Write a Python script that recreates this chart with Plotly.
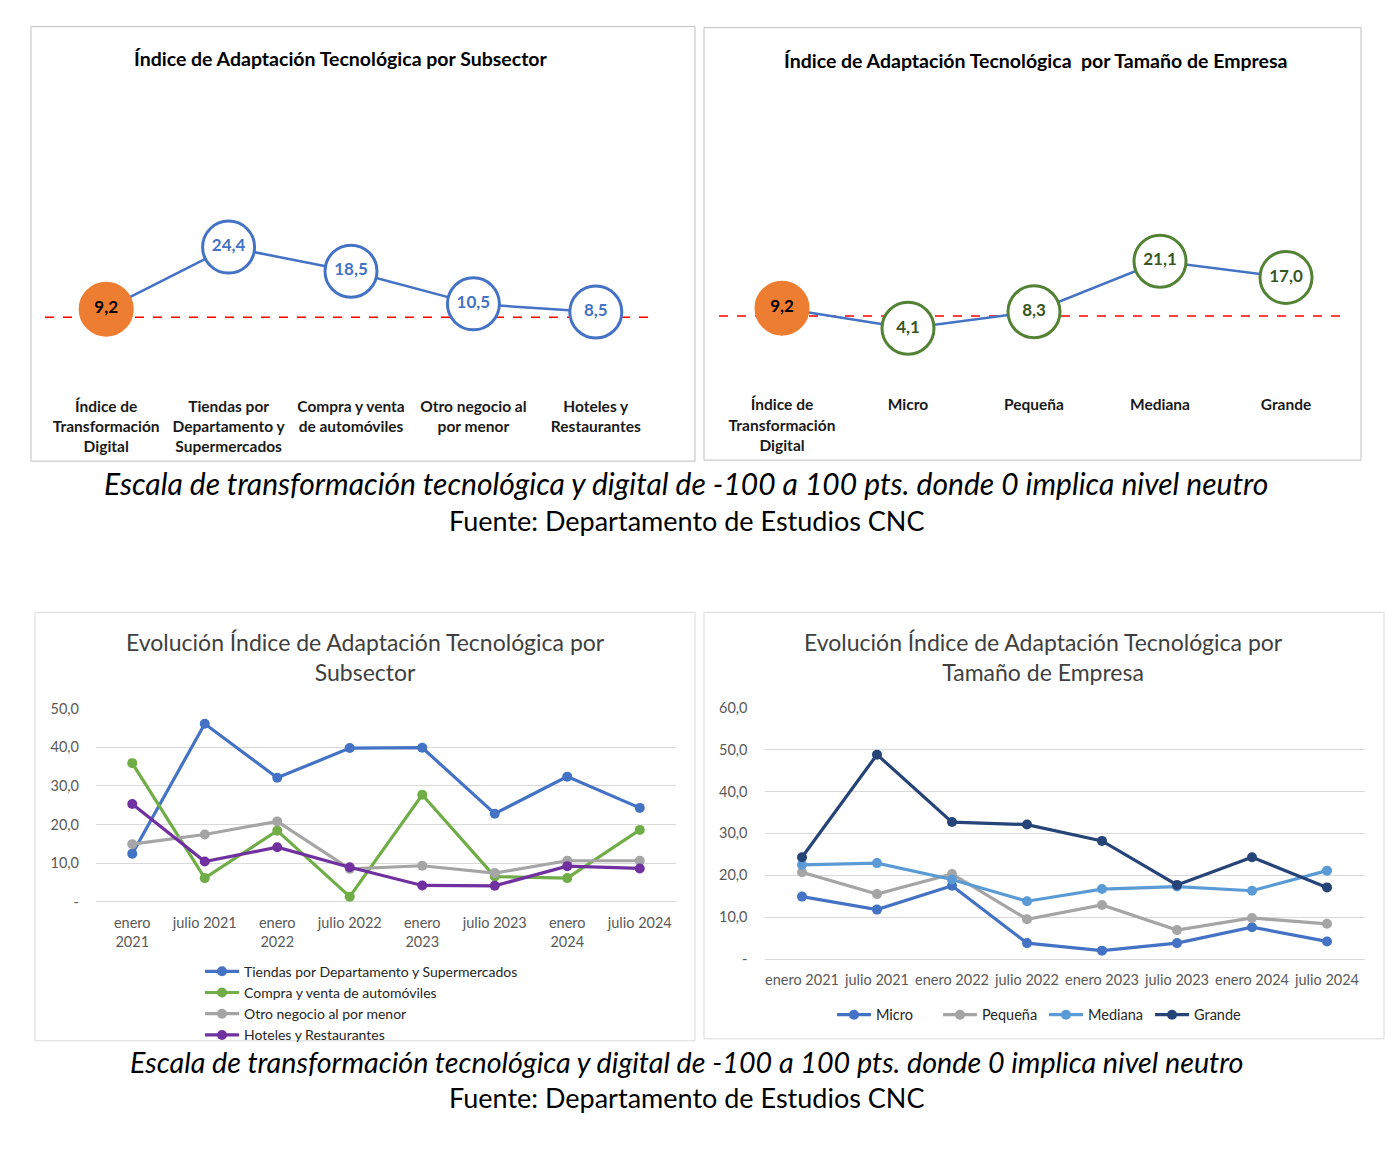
import plotly.graph_objects as go

# figure size (page body has an 8px margin, so the figure is placed at (8, 8))
W, H = 1384, 1144
OFF = 8
# empirical vertical correction observed in the photographed page
VS, VB = 0.984, 9.5

# ---------------- DATA ----------------
cat_subsector = ["Índice de<br>Transformación<br>Digital", "Tiendas por<br>Departamento y<br>Supermercados",
                 "Compra y venta<br>de automóviles", "Otro negocio al<br>por menor", "Hoteles y<br>Restaurantes"]
val_subsector = [9.2, 24.4, 18.5, 10.5, 8.5]

cat_tamano = ["Índice de<br>Transformación<br>Digital", "Micro", "Pequeña", "Mediana", "Grande"]
val_tamano = [9.2, 4.1, 8.3, 21.1, 17.0]

linea_ref = 7.2

periodos = ["enero 2021", "julio 2021", "enero 2022", "julio 2022",
            "enero 2023", "julio 2023", "enero 2024", "julio 2024"]
etiquetas_sub = ["enero<br>2021", "julio 2021", "enero<br>2022", "julio 2022",
                 "enero<br>2023", "julio 2023", "enero<br>2024", "julio 2024"]

tiendas = [12.4, 46.1, 32.1, 39.8, 39.9, 22.8, 32.4, 24.3]
compra = [35.9, 6.1, 18.4, 1.3, 27.7, 6.5, 6.1, 18.6]
otro = [14.9, 17.4, 20.8, 8.5, 9.3, 7.4, 10.6, 10.6]
hoteles = [25.3, 10.4, 14.1, 8.9, 4.2, 4.1, 9.2, 8.6]

micro = [14.9, 11.8, 17.5, 3.8, 2.0, 3.8, 7.6, 4.2]
pequena = [20.7, 15.5, 20.3, 9.5, 12.9, 6.9, 9.8, 8.4]
mediana = [22.5, 22.9, 19.0, 13.8, 16.7, 17.3, 16.3, 21.1]
grande = [24.3, 48.8, 32.7, 32.1, 28.2, 17.7, 24.3, 17.1]

ticks_sub = [0, 10, 20, 30, 40, 50]
ticks_tam = [0, 10, 20, 30, 40, 50, 60]

titulo_1 = "Índice de Adaptación Tecnológica por Subsector"
titulo_2 = "Índice de Adaptación Tecnológica  por Tamaño de Empresa"
titulo_3 = "Evolución Índice de Adaptación Tecnológica por<br>Subsector"
titulo_4 = "Evolución Índice de Adaptación Tecnológica por<br>Tamaño de Empresa"
nota = "Escala de transformación tecnológica y digital de -100 a 100 pts. donde 0 implica nivel neutro"
fuente = "Fuente: Departamento de Estudios CNC"

# ---------------- HELPERS ----------------
FONT = "Lato"


def px(x):
    return (x - OFF) / W


def py(y):
    yc = (y - VB) / VS
    return 1 - (yc - OFF) / H


def fmt(v):
    if v == 0:
        return "-"
    return f"{v:.1f}".replace(".", ",")


BLUE = "#4472C4"
ORANGE = "#ED7D31"
GREEN = "#548235"
DGREEN = "#375623"

fig = go.Figure()

# ---------------- TOP LEFT ----------------
n1 = len(val_subsector)
fig.add_trace(go.Scatter(
    x=cat_subsector, y=val_subsector, mode="lines+markers+text",
    text=[f"<b>{fmt(v)}</b>" for v in val_subsector], textposition="middle center",
    textfont=dict(size=17, color=["#000000"] + [BLUE] * (n1 - 1), family=FONT),
    line=dict(color=BLUE, width=2.5),
    marker=dict(size=52, color=[ORANGE] + ["white"] * (n1 - 1),
                line=dict(color=[ORANGE] + [BLUE] * (n1 - 1), width=3)),
    xaxis="x", yaxis="y", showlegend=False, cliponaxis=False, hoverinfo="skip"))

# ---------------- TOP RIGHT ----------------
n2 = len(val_tamano)
fig.add_trace(go.Scatter(
    x=cat_tamano, y=val_tamano, mode="lines+markers+text",
    text=[f"<b>{fmt(v)}</b>" for v in val_tamano], textposition="middle center",
    textfont=dict(size=17, color=["#000000"] + [DGREEN] * (n2 - 1), family=FONT),
    line=dict(color=BLUE, width=2.5),
    marker=dict(size=52, color=[ORANGE] + ["white"] * (n2 - 1),
                line=dict(color=[ORANGE] + [GREEN] * (n2 - 1), width=3)),
    xaxis="x2", yaxis="y2", showlegend=False, cliponaxis=False, hoverinfo="skip"))

# ---------------- BOTTOM LEFT ----------------
for name, vals, col in [("Tiendas por Departamento y Supermercados", tiendas, "#4472C4"),
                        ("Compra y venta de automóviles", compra, "#70AD47"),
                        ("Otro negocio al por menor", otro, "#A5A5A5"),
                        ("Hoteles y Restaurantes", hoteles, "#7030A0")]:
    fig.add_trace(go.Scatter(x=periodos, y=vals, name=name, mode="lines+markers",
                             line=dict(color=col, width=3.2), marker=dict(size=10, color=col),
                             xaxis="x3", yaxis="y3", legend="legend", cliponaxis=False))

# ---------------- BOTTOM RIGHT ----------------
for name, vals, col in [("Micro", micro, "#4472C4"),
                        ("Pequeña", pequena, "#A5A5A5"),
                        ("Mediana", mediana, "#5B9BD5"),
                        ("Grande", grande, "#264478")]:
    fig.add_trace(go.Scatter(x=periodos, y=vals, name=name, mode="lines+markers",
                             line=dict(color=col, width=3.2), marker=dict(size=10, color=col),
                             xaxis="x4", yaxis="y4", legend="legend2", cliponaxis=False))

# ---------------- AXES ----------------
cat_font = dict(size=15.5, color="#1a1a1a", family=FONT, weight="bold")
tick_font = dict(size=14.5, color="#595959", family=FONT)

fig.update_layout(
    xaxis=dict(domain=[px(45), px(657)], range=[-0.5, 4.5], anchor="y", showgrid=False, zeroline=False,
               showline=False, ticks="", tickfont=cat_font, ticklabelstandoff=8),
    yaxis=dict(domain=[py(387.5), py(163.2)], range=[-10, 45], anchor="x", visible=False),
    xaxis2=dict(domain=[px(719), px(1349)], range=[-0.5, 4.5], anchor="y2", showgrid=False, zeroline=False,
                showline=False, ticks="", tickfont=cat_font, ticklabelstandoff=10),
    yaxis2=dict(domain=[py(383.8), py(167.2)], range=[-10, 45], anchor="x2", visible=False),
    xaxis3=dict(domain=[px(96), px(676)], range=[-0.5, 7.5], anchor="y3", showgrid=False, zeroline=False,
                showline=False, ticks="", tickfont=tick_font, tickmode="array",
                tickvals=periodos, ticktext=etiquetas_sub, ticklabelstandoff=11),
    yaxis3=dict(domain=[py(901), py(708.3)], range=[0, 50], anchor="x3", showgrid=True, gridcolor="#D9D9D9",
                gridwidth=1, zeroline=True, zerolinecolor="#D9D9D9", zerolinewidth=1,
                showline=False, ticks="", tickfont=tick_font, tickmode="array",
                tickvals=ticks_sub, ticktext=[fmt(v) for v in ticks_sub], ticklabelstandoff=16),
    xaxis4=dict(domain=[px(764.5), px(1364.5)], range=[-0.5, 7.5], anchor="y4", showgrid=False, zeroline=False,
                showline=False, ticks="", tickfont=tick_font, ticklabelstandoff=10),
    yaxis4=dict(domain=[py(958.3), py(707.3)], range=[0, 60], anchor="x4", showgrid=True, gridcolor="#D9D9D9",
                gridwidth=1, zeroline=True, zerolinecolor="#D9D9D9", zerolinewidth=1,
                showline=False, ticks="", tickfont=tick_font, tickmode="array",
                tickvals=ticks_tam, ticktext=[fmt(v) for v in ticks_tam], ticklabelstandoff=16),
)

# ---------------- LEGENDS ----------------
fig.update_layout(
    legend=dict(x=px(200), y=py(955), xanchor="left", yanchor="top", orientation="v",
                font=dict(size=14, color="#262626", family=FONT), bgcolor="rgba(0,0,0,0)",
                tracegroupgap=0, itemwidth=34),
    legend2=dict(x=px(832), y=py(998), xanchor="left", yanchor="top", orientation="h",
                 font=dict(size=14.5, color="#262626", family=FONT), bgcolor="rgba(0,0,0,0)",
                 itemwidth=34, entrywidth=57, entrywidthmode="pixels"),
)

# ---------------- SHAPES ----------------
shapes = []
for (x0, y0, x1, y1, c) in [(31, 27, 695, 461, "#BFBFBF"), (704, 28, 1361, 460, "#BFBFBF"),
                            (35, 612, 695, 1040, "#D9D9D9"), (704, 612, 1384, 1038, "#D9D9D9")]:
    shapes.append(dict(type="rect", xref="paper", yref="paper", x0=px(x0), x1=px(x1),
                       y0=py(y1), y1=py(y0), line=dict(color=c, width=1), layer="below"))
for xr, yr in [("x domain", "y"), ("x2 domain", "y2")]:
    shapes.append(dict(type="line", xref=xr, yref=yr, x0=0, x1=1, y0=linea_ref, y1=linea_ref,
                       line=dict(color="#FF0000", width=1.5, dash="dash"), layer="below"))

# ---------------- ANNOTATIONS ----------------
ann = []


def add_text(text, x, y, size, color, yanchor="middle"):
    ann.append(dict(text=text, x=px(x), y=py(y), xref="paper", yref="paper", showarrow=False,
                    xanchor="center", yanchor=yanchor, font=dict(size=size, color=color, family=FONT)))


add_text(f"<b>{titulo_1}</b>", 341, 59, 19.5, "#000000")
add_text(f"<b>{titulo_2}</b>", 1035, 61, 19.5, "#000000")
add_text(titulo_3, 365, 657, 23, "#404040")
add_text(titulo_4, 1043, 657, 23, "#404040")
add_text(f"<i>{nota}</i>", 686, 483, 30, "#000000")
add_text(fuente, 687, 520, 27, "#000000")
add_text(f"<i>{nota}</i>", 686, 1061, 28.7, "#000000")
add_text(fuente, 687, 1097, 27, "#000000")

fig.update_layout(
    width=W, height=H, margin=dict(l=0, r=0, t=0, b=0),
    paper_bgcolor="white", plot_bgcolor="rgba(0,0,0,0)",
    font=dict(family=FONT), shapes=shapes, annotations=ann,
)

fig.write_html("out.html")
